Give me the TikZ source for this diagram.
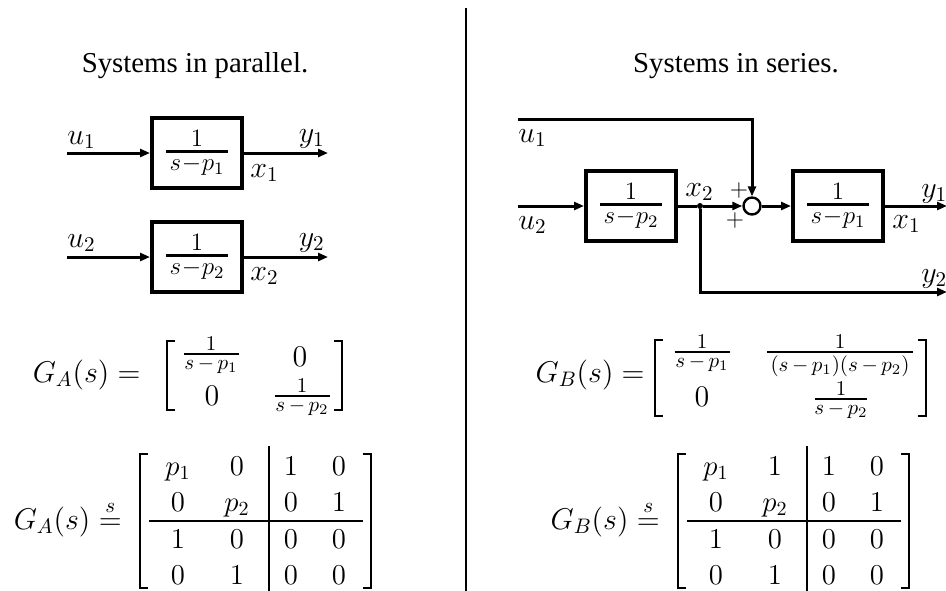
\RequirePackage{fix-cm}
\documentclass[tikz,border=0pt]{standalone}
\usepackage{amsmath}
\usepackage{fontspec}
\newfontfamily\tfont{Liberation Serif}
\usetikzlibrary{arrows.meta}
\newcommand\msz{\fontsize{15}{18}\selectfont}
\newcommand\esz{\fontsize{14.4}{17.28}\selectfont}
\newcommand\bsz{\fontsize{12.5}{15}\selectfont}
\newcommand\fsz{\fontsize{10.5}{12.5}\selectfont}
\newcommand\psz{\fontsize{12}{14}\selectfont}
% fraction with a fixed bar length; numerator and denominator in text style
\newcommand\xfr[5]{\genfrac{}{}{#1}{1}{\textstyle #4}{\hbox to #2{\hss$\textstyle\medmuskip=#3 #5$\hss}}}
\newcommand\prow[8]{%
  \node[ent] (#1#3a) at (#2+38,#4) {$#5$};
  \node[ent] (#1#3b) at (#2+97,#4) {$#6$};
  \node[ent] (#1#3c) at (#2+151,#4) {$#7$};
  \node[ent] (#1#3d) at (#2+199,#4) {$#8$};}
\newcommand\pmatframe[1]{%
  \draw[brk] (#1+8,454) -- (#1,454) -- (#1,588) -- (#1+8,588);
  \draw[brk] (#1+223,454) -- (#1+231,454) -- (#1+231,588) -- (#1+223,588);
  \draw[brk] (#1+129,446) -- (#1+129,594);
  \draw[brk] (#1+9,521) -- (#1+223,521);}
\begin{document}
\begin{tikzpicture}[x=0.5pt,y=-0.5pt,
  blk/.style={draw, line width=2pt, minimum width=45pt, minimum height=35pt, inner sep=0pt, font=\bsz},
  sig/.style={line width=1.5pt, -{Triangle[length=5pt,width=4pt]}},
  wire/.style={line width=1.5pt},
  lbl/.style={inner sep=0pt, anchor=base west, font=\msz},
  lble/.style={inner sep=0pt, anchor=base east, font=\msz},
  brk/.style={line width=1.2pt},
  ent/.style={inner sep=0pt, anchor=base, font=\esz},
  fr/.style={inner sep=0pt, anchor=base, font=\fsz},
  zr/.style={inner sep=0pt, anchor=base, font=\msz},
  dot/.style={circle, fill, inner sep=0pt, minimum size=3pt},
  plus/.style={inner sep=0pt, font=\psz}]
\useasboundingbox (0,0) rectangle (946,590);
% titles and divider
\node[inner sep=0pt, anchor=base, font=\tfont\esz] (t1) at (195,72) {Systems in parallel.};
\node[inner sep=0pt, anchor=base, font=\tfont\esz] (t2) at (736,72) {Systems in series.};
\draw[line width=1pt] (466,8) -- (466,594);
% ---- parallel diagram
\coordinate (ua1) at (67,153);
\node[blk] (A1) at (197,153) {$\xfr{1.5pt}{31pt}{0.5mu}{1}{s-p_1}$};
\coordinate (ya1) at (328,153);
\draw[sig] (ua1) -- (A1);
\draw[sig] (A1) -- (ya1);
\node[lbl] (lu1) at (67,144) {$u_1$};
\node[lble] (ly1) at (325,142) {$y_1$};
\node[lbl] (lx1) at (250,177) {$x_1$};
\coordinate (ua2) at (67,257);
\node[blk] (A2) at (197,257) {$\xfr{1.5pt}{31pt}{0.5mu}{1}{s-p_2}$};
\coordinate (ya2) at (328,257);
\draw[sig] (ua2) -- (A2);
\draw[sig] (A2) -- (ya2);
\node[lbl] (lu2) at (67,247) {$u_2$};
\node[lble] (ly2) at (325,246) {$y_2$};
\node[lbl] (lx2) at (250,280) {$x_2$};
% ---- series diagram
\coordinate (ub1) at (518,119);
\coordinate (ub2) at (518,206);
\node[blk] (B2) at (631,206) {$\xfr{1.5pt}{31pt}{0.5mu}{1}{s-p_2}$};
\node[circle, draw, line width=1.2pt, minimum size=8.5pt, inner sep=0pt] (sum) at (752,206) {};
\node[dot] (j) at (700,206) {};
\node[blk] (B1) at (838,206) {$\xfr{1.5pt}{31pt}{0.5mu}{1}{s-p_1}$};
\coordinate (yb1) at (947,206);
\coordinate (yb2) at (947,292);
\draw[sig] (ub2) -- (B2);
\draw[wire] (B2) -- (j);
\draw[sig] (j) -- (sum);
\draw[sig] (ub1) -| (sum);
\draw[sig] (sum) -- (B1);
\draw[sig] (B1) -- (yb1);
\draw[sig] (j) |- (yb2);
\node[lbl] (mu1) at (518,142) {$u_1$};
\node[lbl] (mu2) at (518,229) {$u_2$};
\node[lbl] (mx2) at (685,196) {$x_2$};
\node[lbl] (my1) at (921,197) {$y_1$};
\node[lbl] (mx1) at (892,228) {$x_1$};
\node[lbl] (my2) at (921,282) {$y_2$};
\node[plus] (pt) at (739,190) {$+$};
\node[plus] (pb) at (735,220) {$+$};
% ---- G_A(s) transfer matrix
\node[inner sep=0pt, anchor=base east, font=\msz] (ga) at (141,382) {$G_A(s) =$};
\draw[brk] (175,341) -- (167,341) -- (167,410) -- (175,410);
\draw[brk] (334,341) -- (342,341) -- (342,410) -- (334,410);
\node[fr] (ga11) at (211,359) {$\xfr{1.2pt}{27.5pt}{3mu}{1}{s-p_1}$};
\node[zr] (ga12) at (300,366) {$0$};
\node[zr] (ga21) at (212,405) {$0$};
\node[fr] (ga22) at (302,401) {$\xfr{1.2pt}{27.5pt}{3mu}{1}{s-p_2}$};
% ---- G_B(s) transfer matrix
\node[inner sep=0pt, anchor=base east, font=\msz] (gb) at (645,382) {$G_B(s) =$};
\draw[brk] (663,340) -- (655,340) -- (655,416) -- (663,416);
\draw[brk] (918,340) -- (926,340) -- (926,416) -- (918,416);
\node[fr] (gb11) at (702,357) {$\xfr{1.2pt}{27.5pt}{3mu}{1}{s-p_1}$};
\node[fr] (gb12) at (840,357) {$\xfr{1.2pt}{73pt}{3mu}{1}{(s-p_1)(s-p_2)}$};
\node[zr] (gb21) at (702,406) {$0$};
\node[fr] (gb22) at (841,404) {$\xfr{1.2pt}{26pt}{3mu}{1}{s-p_2}$};
% ---- state-space realisations
\node[inner sep=0pt, anchor=base east, font=\msz] (sa) at (122,529) {$G_A(s) \stackrel{s}{=}$};
\pmatframe{140}
\prow{A}{140}{1}{475}{p_1}{0}{1}{0}
\prow{A}{140}{2}{511}{0}{p_2}{0}{1}
\prow{A}{140}{3}{548}{1}{0}{0}{0}
\prow{A}{140}{4}{584}{0}{1}{0}{0}
\node[inner sep=0pt, anchor=base east, font=\msz] (sb) at (660,529) {$G_B(s) \stackrel{s}{=}$};
\pmatframe{678}
\prow{B}{678}{1}{475}{p_1}{1}{1}{0}
\prow{B}{678}{2}{511}{0}{p_2}{0}{1}
\prow{B}{678}{3}{548}{1}{0}{0}{0}
\prow{B}{678}{4}{584}{0}{1}{0}{0}
\end{tikzpicture}
\end{document}
